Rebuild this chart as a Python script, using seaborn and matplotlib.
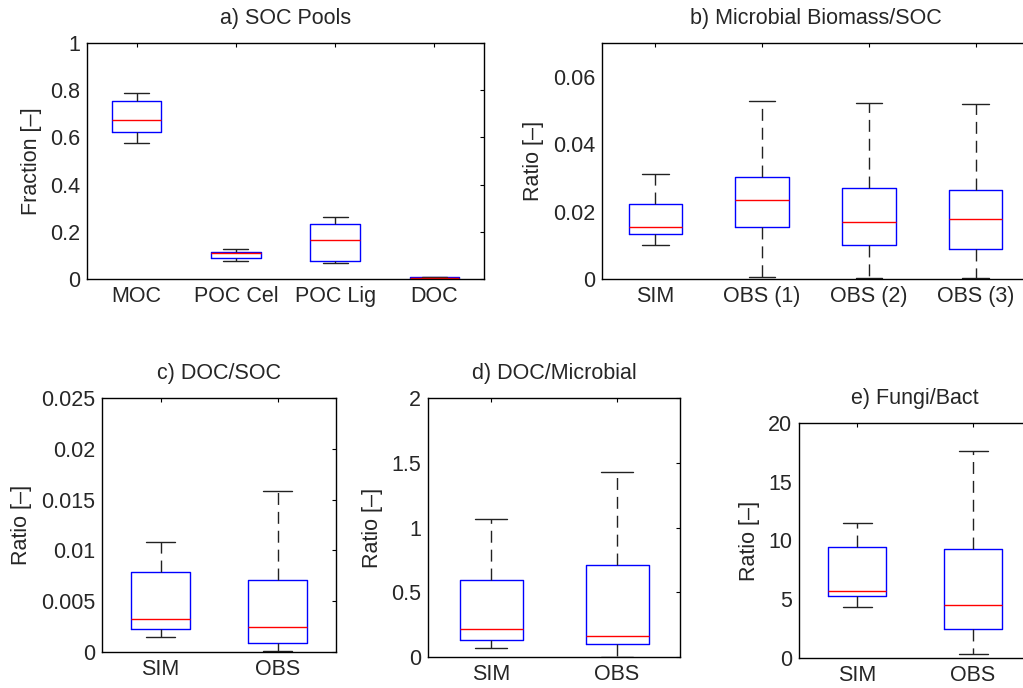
import numpy as np
import pandas as pd
import matplotlib
matplotlib.use("Agg")
import matplotlib.pyplot as plt
import seaborn as sns
from matplotlib.ticker import FuncFormatter

# Five-number summaries: [low whisker, Q1, median, Q3, high whisker]
a_cats = ["MOC", "POC Cel", "POC Lig", "DOC"]
a_moc = [0.575, 0.622, 0.674, 0.755, 0.790]
a_poc_cel = [0.076, 0.091, 0.109, 0.116, 0.129]
a_poc_lig = [0.068, 0.078, 0.167, 0.235, 0.263]
a_doc = [0.001, 0.002, 0.004, 0.007, 0.009]

b_cats = ["SIM", "OBS (1)", "OBS (2)", "OBS (3)"]
b_sim = [0.0102, 0.0134, 0.0153, 0.0221, 0.0310]
b_obs1 = [0.0006, 0.0153, 0.0234, 0.0304, 0.0527]
b_obs2 = [0.0004, 0.0101, 0.0170, 0.0270, 0.0523]
b_obs3 = [0.0004, 0.0090, 0.0177, 0.0263, 0.0520]

c_cats = ["SIM", "OBS"]
c_sim = [0.00144, 0.0023, 0.00322, 0.00784, 0.0108]
c_obs = [0.00005, 0.00092, 0.00249, 0.00705, 0.0158]

d_cats = ["SIM", "OBS"]
d_sim = [0.067, 0.129, 0.214, 0.598, 1.064]
d_obs = [0.003, 0.100, 0.165, 0.709, 1.428]

e_cats = ["SIM", "OBS"]
e_sim = [4.31, 5.28, 5.73, 9.45, 11.49]
e_obs = [0.31, 2.44, 4.54, 9.28, 17.59]

titles = ["a) SOC Pools", "b) Microbial Biomass/SOC", "c) DOC/SOC",
          "d) DOC/Microbial", "e) Fungi/Bact"]
ylabels = ["Fraction [–]", "Ratio [–]", "Ratio [–]", "Ratio [–]", "Ratio [–]"]
yticks_list = [[0, 0.2, 0.4, 0.6, 0.8, 1.0],
               [0, 0.02, 0.04, 0.06],
               [0, 0.005, 0.01, 0.015, 0.02, 0.025],
               [0, 0.5, 1.0, 1.5, 2.0],
               [0, 5, 10, 15, 20]]
ylims = [(0, 1), (0, 0.07), (0, 0.025), (0, 2), (0, 20)]

panels = [
    (a_cats, [a_moc, a_poc_cel, a_poc_lig, a_doc]),
    (b_cats, [b_sim, b_obs1, b_obs2, b_obs3]),
    (c_cats, [c_sim, c_obs]),
    (d_cats, [d_sim, d_obs]),
    (e_cats, [e_sim, e_obs]),
]

sns.set_style("white")
plt.rcParams["font.family"] = ["Liberation Sans", "DejaVu Sans"]
plt.rcParams["font.size"] = 15.5

fig = plt.figure(figsize=(10.23, 6.88), dpi=100)
W, H = 1023.0, 688.0
# axes boxes in pixels: left, top, right, bottom
boxes_px = [(87, 43, 484, 279),
            (602, 43, 1029, 279),
            (102, 398, 336, 652),
            (428, 398, 680, 657),
            (799, 423, 1031, 658)]

fmt = FuncFormatter(lambda v, p: "%g" % v)

for i, ((cats, series), (l, t, r, b)) in enumerate(zip(panels, boxes_px)):
    ax = fig.add_axes([l / W, 1 - b / H, (r - l) / W, (b - t) / H])
    df = pd.DataFrame({
        "cat": np.repeat(cats, [len(s) for s in series]),
        "val": np.concatenate([np.asarray(s, dtype=float) for s in series]),
    })
    sns.boxplot(data=df, x="cat", y="val", order=cats, ax=ax,
                whis=(0, 100), width=0.5, fill=False, showfliers=False,
                linewidth=1.0,
                boxprops=dict(color="#0000ff", linewidth=1.0),
                medianprops=dict(color="#ff0000", linewidth=1.0),
                whiskerprops=dict(color="#222222", linewidth=1.0,
                                  linestyle=(0, (8.6, 5.0))),
                capprops=dict(color="#222222", linewidth=1.0))
    ax.set_xlim(-0.5, len(cats) - 0.5)
    ax.set_ylim(*ylims[i])
    ax.set_yticks(yticks_list[i])
    ax.yaxis.set_major_formatter(fmt)
    ax.set_xlabel("")
    ax.set_ylabel(ylabels[i], fontsize=15.5, labelpad=6)
    ax.set_title(titles[i], fontsize=15.5, pad=14)
    ax.tick_params(axis="both", direction="in", length=2.6, width=0.8,
                   top=True, right=True, labelsize=15.5, pad=5, color="black")
    for s in ax.spines.values():
        s.set_visible(True)
        s.set_color("black")
        s.set_linewidth(1.0)
    ax.grid(False)

fig.savefig("out.png", dpi=100, facecolor="white")
